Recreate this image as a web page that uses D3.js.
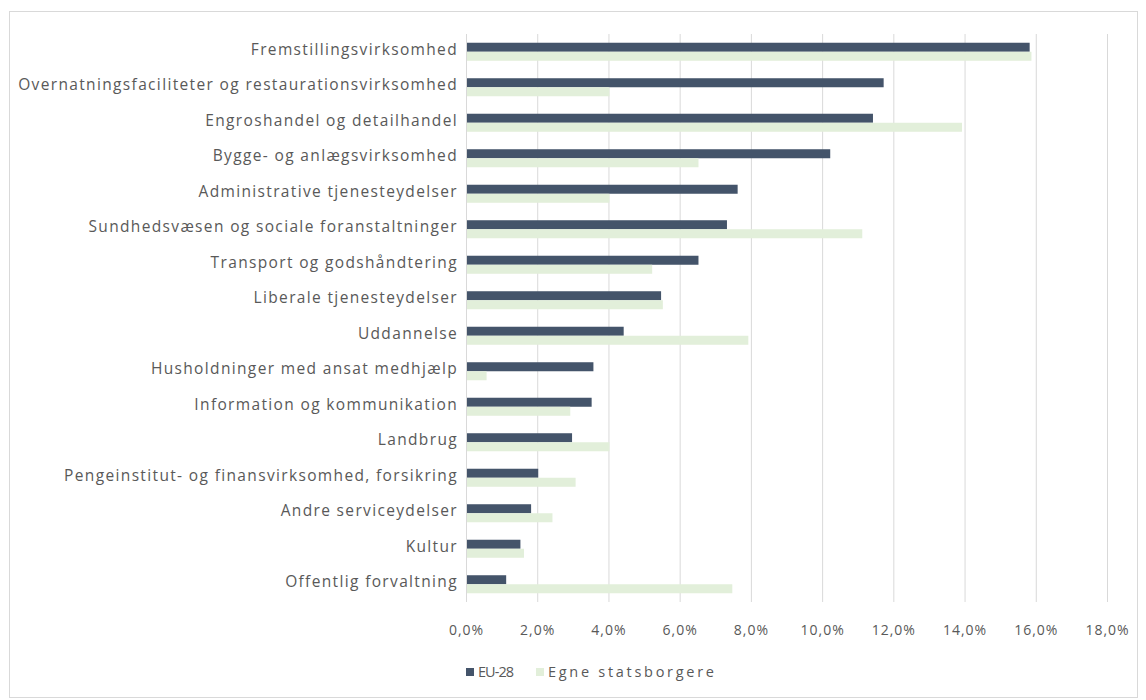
<!DOCTYPE html>
<html>
<head>
<meta charset="utf-8">
<script src="https://cdn.jsdelivr.net/npm/d3@7"></script>
<style>
  body { margin: 0; background: #fff; }
  text { font-family: "Open Sans", sans-serif; fill: #595959; }
</style>
</head>
<body>
<div id="chart"></div>
<script>
const categories = [
  "Fremstillingsvirksomhed",
  "Overnatningsfaciliteter og restaurationsvirksomhed",
  "Engroshandel og detailhandel",
  "Bygge- og anlægsvirksomhed",
  "Administrative tjenesteydelser",
  "Sundhedsvæsen og sociale foranstaltninger",
  "Transport og godshåndtering",
  "Liberale tjenesteydelser",
  "Uddannelse",
  "Husholdninger med ansat medhjælp",
  "Information og kommunikation",
  "Landbrug",
  "Pengeinstitut- og finansvirksomhed, forsikring",
  "Andre serviceydelser",
  "Kultur",
  "Offentlig forvaltning"
];
const eu28 = [15.8, 11.7, 11.4, 10.2, 7.6, 7.3, 6.5, 5.45, 4.4, 3.55, 3.5, 2.95, 2.0, 1.8, 1.5, 1.1];
const egne = [15.85, 4.0, 13.9, 6.5, 4.0, 11.1, 5.2, 5.5, 7.9, 0.55, 2.9, 4.0, 3.05, 2.4, 1.6, 7.45];
const tickValues = [0, 2, 4, 6, 8, 10, 12, 14, 16, 18];
const seriesNames = ["EU-28", "Egne statsborgere"];
const seriesColors = ["#44546a", "#e2efda"];

const W = 1146, H = 700;
const plot = { left: 466, right: 1107, top: 34, bottom: 602 };

const svg = d3.select("#chart").append("svg")
  .attr("width", W).attr("height", H);

// chart border
svg.append("rect")
  .attr("x", 9.5).attr("y", 11.5)
  .attr("width", 1128).attr("height", 686)
  .attr("fill", "#fff").attr("stroke", "#d9d9d9");

const x = d3.scaleLinear().domain([0, 18]).range([plot.left, plot.right]);
const y = d3.scaleBand().domain(categories).range([plot.top, plot.bottom]).paddingInner(0).paddingOuter(0);
const inner = d3.scaleBand().domain([0, 1]).range([0, y.bandwidth()]).paddingInner(0).paddingOuter(0.97);

// gridlines
svg.append("g")
  .selectAll("line")
  .data(tickValues)
  .join("line")
  .attr("x1", d => x(d) + 0.5).attr("x2", d => x(d) + 0.5)
  .attr("y1", plot.top).attr("y2", plot.bottom)
  .attr("stroke", "#d9d9d9");

// x axis tick labels
const xAxis = svg.append("g")
  .attr("transform", `translate(0,${plot.bottom})`)
  .call(d3.axisBottom(x).tickValues(tickValues)
    .tickFormat(d => d.toFixed(1).replace(".", ",") + "%")
    .tickSize(0).tickPadding(23));
xAxis.select(".domain").remove();
xAxis.selectAll("text").attr("font-size", "14px").attr("fill", "#595959")
  .style("letter-spacing", "1px")
  .style("font-family", "Open Sans, sans-serif");

// y axis labels
const yAxis = svg.append("g")
  .attr("transform", `translate(${plot.left},0)`)
  .call(d3.axisLeft(y).tickSize(0).tickPadding(8));
yAxis.select(".domain").remove();
yAxis.selectAll("text").attr("font-size", "15.5px").attr("fill", "#595959")
  .attr("dy", "0.2em")
  .style("letter-spacing", "1.35px")
  .style("font-family", "Open Sans, sans-serif");

// bars
[eu28, egne].forEach((vals, s) => {
  svg.append("g")
    .selectAll("rect")
    .data(vals)
    .join("rect")
    .attr("x", x(0) + 1)
    .attr("y", (d, i) => y(categories[i]) + inner(s))
    .attr("width", d => x(d) - x(0))
    .attr("height", inner.bandwidth())
    .attr("fill", seriesColors[s]);
});

// legend (item offsets and text widths taken from the original layout)
const legendX = [0, 70];
const legendW = [36, 166];
const legend = svg.append("g").attr("transform", "translate(466,672)");
seriesNames.forEach((name, i) => {
  const g = legend.append("g").attr("transform", `translate(${legendX[i]},0)`);
  g.append("rect").attr("x", 0).attr("y", -4).attr("width", 8).attr("height", 8)
    .attr("fill", seriesColors[i]);
  g.append("text").attr("x", 12).attr("y", 0).attr("dy", "0.35em")
    .attr("font-size", "14.5px")
    .attr("textLength", legendW[i]).attr("lengthAdjust", "spacing")
    .text(name);
});
</script>
</body>
</html>
